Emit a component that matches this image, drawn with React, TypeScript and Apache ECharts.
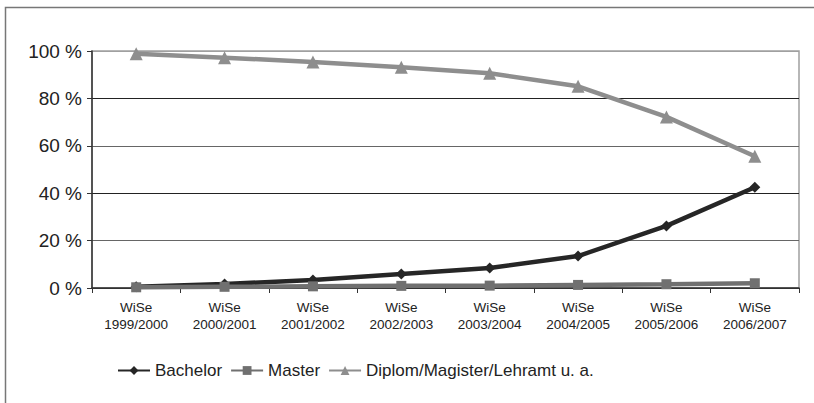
import React, { useEffect, useRef } from "react";
import * as echarts from "echarts";

const categories = [
  "WiSe\n1999/2000",
  "WiSe\n2000/2001",
  "WiSe\n2001/2002",
  "WiSe\n2002/2003",
  "WiSe\n2003/2004",
  "WiSe\n2004/2005",
  "WiSe\n2005/2006",
  "WiSe\n2006/2007",
];
const bachelor = [0.5, 1.7, 3.4, 5.9, 8.4, 13.5, 26.2, 42.5];
const master = [0.3, 0.5, 0.7, 0.9, 1.0, 1.3, 1.6, 2.0];
const diplom = [98.8, 97.2, 95.4, 93.1, 90.6, 85.1, 72.2, 55.6];
const yTicks = [0, 20, 40, 60, 80, 100];

export default function App() {
  const ref = useRef<HTMLDivElement>(null);
  useEffect(() => {
    document.body.style.margin = "0";
    const chart = echarts.init(ref.current!, null, { renderer: "svg" });
    const font = "Liberation Sans, Arial, sans-serif";
    chart.setOption({
      animation: false,
      backgroundColor: "#ffffff",
      textStyle: { fontFamily: font },
      graphic: [
        {
          type: "rect",
          shape: { x: 5.5, y: 7.5, width: 900, height: 500 },
          style: { fill: "none", stroke: "#777", lineWidth: 1.5 },
          silent: true,
          z: -10,
        },
      ],
      grid: {
        left: 92,
        right: 15,
        top: 51,
        bottom: 115,
        show: true,
        borderColor: "#a0a0a0",
        borderWidth: 1.5,
      },
      legend: {
        left: 112,
        top: 357,
        itemWidth: 32,
        itemHeight: 11,
        itemGap: 8,
        textStyle: { fontFamily: font, fontSize: 17, color: "#222" },
        data: ["Bachelor", "Master", "Diplom/Magister/Lehramt u. a."],
      },
      xAxis: {
        type: "category",
        data: categories,
        boundaryGap: true,
        axisLine: { lineStyle: { color: "#333", width: 1.5 } },
        axisTick: { show: true, length: 5, lineStyle: { color: "#333" } },
        axisLabel: {
          fontFamily: font,
          fontSize: 13.5,
          lineHeight: 17,
          color: "#222",
          margin: 11,
          interval: 0,
        },
      },
      yAxis: {
        type: "value",
        min: 0,
        max: 100,
        interval: 20,
        axisLine: { show: true, lineStyle: { color: "#333", width: 1.5 } },
        axisTick: { show: true, length: 5, lineStyle: { color: "#333" } },
        axisLabel: {
          fontFamily: font,
          fontSize: 19,
          color: "#222",
          margin: 10,
          formatter: (v: number) => (yTicks.includes(v) ? `${v} %` : ""),
        },
        splitLine: {
          lineStyle: {
            color: ["#333", "#666", "#222", "#666", "#222", "#a0a0a0"],
            width: 1.2,
          },
        },
      },
      series: [
        {
          name: "Bachelor",
          type: "line",
          data: bachelor,
          symbol: "diamond",
          symbolSize: 11,
          lineStyle: { color: "#262626", width: 4.5 },
          itemStyle: { color: "#262626" },
          z: 2,
        },
        {
          name: "Master",
          type: "line",
          data: master,
          symbol: "rect",
          symbolSize: 10,
          lineStyle: { color: "#707070", width: 4.5 },
          itemStyle: { color: "#707070" },
          z: 3,
        },
        {
          name: "Diplom/Magister/Lehramt u. a.",
          type: "line",
          data: diplom,
          symbol: "triangle",
          symbolSize: 13,
          lineStyle: { color: "#8e8e8e", width: 4.5 },
          itemStyle: { color: "#8e8e8e" },
          z: 4,
        },
      ],
    });
    return () => chart.dispose();
  }, []);
  return <div ref={ref} style={{ width: 814, height: 403 }} />;
}
